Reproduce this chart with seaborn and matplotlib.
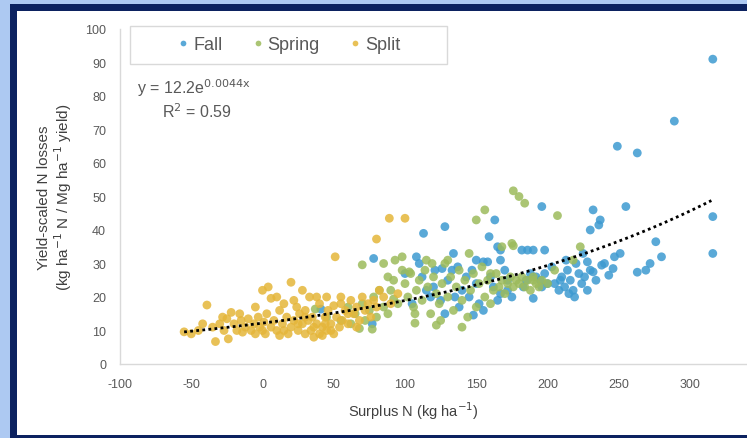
import numpy as np
import pandas as pd
import seaborn as sns
import matplotlib.pyplot as plt
from matplotlib.patches import Rectangle

# --- data ---
fall_x = [289, 249, 263, 316, 316, 316, 255, 232, 236, 230, 196, 163, 128, 113, 159,
          276, 280, 263, 269, 247, 246, 243, 238, 232, 228, 198, 190, 186, 182, 190,
          172, 167, 165, 167, 167, 158, 155, 134, 137, 133, 126, 121, 148, 108, 78,
          77, 115, 41, 205, 208, 210, 212, 214, 216, 218, 220, 222, 224, 226, 228,
          230, 234, 219, 215, 225, 213, 185, 188, 192, 195, 198, 200, 183, 196, 140,
          145, 150, 152, 138, 130, 160, 162, 125, 143, 135, 155, 147, 170, 172, 120,
          112, 118, 128, 110, 100, 105, 150, 165, 175, 237, 240, 251, 272, 209, 203]
fall_y = [72.5, 65, 63, 91, 44, 33, 47, 46, 41.5, 40, 47, 43, 41, 39, 38,
          36.5, 32, 27.4, 28, 32, 28.5, 26.5, 29.5, 27.5, 30.5, 34, 34, 34, 34, 19.6,
          22, 21, 35, 34, 31, 30.5, 30.5, 33, 29, 28, 28.5, 28, 14.6, 32, 31.5,
          12, 22, 16.4, 24, 22, 26, 23, 28, 25, 22, 30, 27, 24, 26, 22,
          28, 25, 20, 21, 33, 31, 25, 27, 26, 25, 27, 24, 23, 23, 22,
          20, 24, 18, 17, 25, 26, 23, 19, 26, 20, 16, 28, 28, 25, 23,
          26, 20, 15, 30, 27, 18, 31, 19, 20, 43, 30, 33, 30, 25, 29]

spring_x = [176, 180, 184, 156, 150, 207, 176, 168, 223, 70, 85, 68, 77, 107, 122,
            90, 92, 95, 98, 100, 102, 104, 106, 108, 110, 112, 114, 116, 118, 120,
            122, 124, 126, 128, 130, 132, 134, 136, 138, 140, 142, 144, 146, 148, 150,
            152, 154, 156, 158, 160, 162, 164, 166, 168, 170, 172, 174, 176, 178, 180,
            182, 184, 186, 188, 190, 192, 194, 196, 200, 60, 65, 70, 72, 75, 78,
            80, 82, 85, 88, 55, 62, 88, 93, 98, 103, 119, 92, 107, 37, 45,
            115, 130, 145, 160, 175, 190, 205, 218, 125, 140]
spring_y = [51.7, 50, 48, 46, 43, 44.3, 35.3, 35, 35, 29.6, 30, 10.6, 10.4, 12.2, 11.6,
            22, 25, 18, 28, 24, 20, 27, 17, 22, 25, 19, 28, 23, 15, 26,
            21, 18, 24, 30, 20, 26, 16, 23, 28, 19, 25, 14, 22, 27, 17,
            24, 29, 20, 25, 18, 22, 27, 23, 25, 21, 24, 26, 23, 25, 24,
            26, 23, 25, 22, 26, 24, 23, 25, 24, 17, 15, 18, 13, 16, 20,
            14, 22, 17, 15, 13, 12, 26, 31, 32, 27.5, 30, 19.4, 15, 16.4, 14,
            31, 31, 33, 27, 36, 25, 28, 31, 13, 11]

split_x = [-55, -50, -39, -33, -24, -22, -20, -18, -15, -14, -12, -10, -8, -6, -5,
           -3, -2, 0, 1, 2, 3, 4, 6, 6, 8, 10, 12, 12, 14, 15,
           17, 18, 20, 20, 22, 24, 25, 26, 28, 28, 30, 30, 32, 33, 34,
           35, 36, 38, 38, 40, 40, 42, 42, 44, 45, 46, 48, 50, 50, 51,
           52, 54, 55, 56, 58, 60, 62, 64, 66, 68, 70, 72, 74, 76, 78,
           80, 80, 85, 89, 100, 82, 90, 95, -30, -27, -25, -35, -45, -42, -28,
           -16, 10, 15, 22, 45, 55, -5, 0, 36, 44, 30, 60, 66, 48, 25]
split_y = [9.6, 9, 17.6, 6.7, 7.5, 15.4, 12, 10, 13, 9.5, 11, 13.5, 10, 12, 9,
           14, 11, 10, 12.5, 9, 15, 23, 19.6, 11, 13, 10, 8.5, 16, 12, 10,
           14, 9, 24.4, 11, 13, 17, 10, 15, 22, 12, 9, 16, 13, 20, 10,
           14, 8, 20, 12, 9, 18, 11, 8.5, 14, 10, 16, 12, 17.4, 9, 32,
           14, 11, 18, 13, 16, 12, 19, 15, 17, 13, 20, 16, 18, 14, 19,
           37.3, 17, 20, 43.5, 43.5, 22, 18, 21, 12, 10, 13.5, 11, 10, 12, 14,
           15, 20, 18, 19, 20, 20, 17, 22, 11, 12, 14, 15, 11, 10, 12]

groups = ['Fall', 'Spring', 'Split']
colors = ['#3d9ad1', '#9cbb5c', '#e5b63a']
fit_a, fit_b = 12.2, 0.0044
fit_range = (-55, 315)

df = pd.DataFrame({
    'surplus': fall_x + spring_x + split_x,
    'loss': fall_y + spring_y + split_y,
    'timing': ['Fall'] * len(fall_x) + ['Spring'] * len(spring_x) + ['Split'] * len(split_x),
})

sns.set_theme(style='white')
plt.rcParams['font.family'] = ['Liberation Sans', 'DejaVu Sans']
plt.rcParams['axes.unicode_minus'] = False

fig = plt.figure(figsize=(7.47, 4.39), dpi=100)
fig.patch.set_facecolor('#adc9f2')
# navy frame and white panel
fig.add_artist(Rectangle((10 / 747, 0), 1, 1 - 5 / 439, transform=fig.transFigure,
                         facecolor='#0c2260', edgecolor='none', zorder=0))
fig.add_artist(Rectangle((17 / 747, 3 / 439), 1, 1 - 15 / 439, transform=fig.transFigure,
                         facecolor='white', edgecolor='none', zorder=0))

ax = fig.add_axes([120 / 747, 1 - 365 / 439, 1 - 120 / 747, 335 / 439])
ax.set_facecolor('none')

sns.scatterplot(data=df, x='surplus', y='loss', hue='timing', hue_order=groups,
                palette=colors, s=40, alpha=0.85, edgecolor='none', ax=ax, zorder=3)

xs = np.linspace(fit_range[0], fit_range[1], 200)
ax.plot(xs, fit_a * np.exp(fit_b * xs), color='black', linestyle=(0, (1, 1.2)),
        linewidth=2, zorder=4)

ax.set_xlim(-100, 340)
ax.set_ylim(0, 100)
ax.set_xticks(range(-100, 301, 50))
ax.set_yticks(range(0, 101, 10))
ax.tick_params(axis='both', labelsize=9, labelcolor='#595959', color='#d9d9d9',
               length=4, width=1, direction='out', pad=6)
for side in ['top', 'right']:
    ax.spines[side].set_visible(False)
for side in ['left', 'bottom']:
    ax.spines[side].set_color('#d9d9d9')
    ax.spines[side].set_linewidth(1)

ax.set_xlabel('Surplus N (kg ha$^{-1}$)', fontsize=10.5, color='#404040')
ax.xaxis.set_label_coords(0.467, -0.105)
ax.set_ylabel('Yield-scaled N losses\n(kg ha$^{-1}$ N / Mg ha$^{-1}$ yield)',
              fontsize=11, color='#404040', linespacing=1.1)
ax.yaxis.set_label_coords(-0.073, 0.5)

fig.text(137 / 747, 1 - 88 / 439, 'y = 12.2e$^{\\mathrm{0.0044x}}$', fontsize=11.5,
         color='#595959', va='center', ha='left')
fig.text(162 / 747, 1 - 112 / 439, 'R$^{\\mathrm{2}}$ = 0.59', fontsize=11.5,
         color='#595959', va='center', ha='left')

# legend box drawn separately to match the wide frame
ax.add_patch(Rectangle((10 / 627, 300 / 335), 317 / 627, 38 / 335, transform=ax.transAxes,
                       facecolor='white', edgecolor='#d9d9d9', linewidth=1,
                       clip_on=False, zorder=5))
leg = ax.legend(loc='center left', bbox_to_anchor=(46 / 627, 319 / 335), ncol=3,
                frameon=False, fontsize=13, markerscale=0.65, handletextpad=0.1,
                columnspacing=1.5, borderpad=0, handlelength=0.9)
leg.set_zorder(6)
for t in leg.get_texts():
    t.set_color('#595959')

fig.savefig('out.png', dpi=100)
